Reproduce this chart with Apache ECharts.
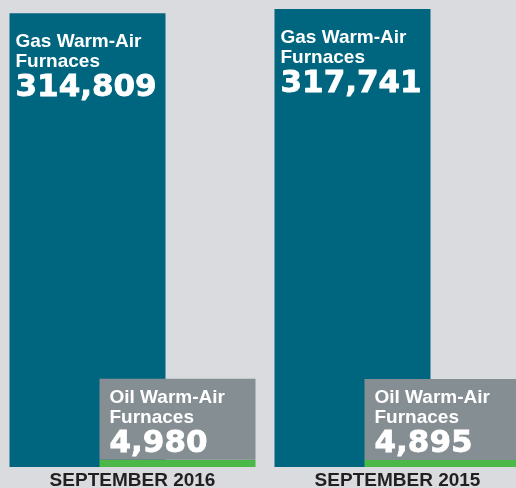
<!DOCTYPE html>
<html>
<head>
<meta charset="utf-8">
<script src="https://cdn.jsdelivr.net/npm/echarts@6/dist/echarts.min.js"></script>
<style>
html, body { margin: 0; padding: 0; background: #d9dbde; }
#chart { width: 516px; height: 488px; }
</style>
</head>
<body>
<div id="chart"></div>
<script>
// 数据
var categories = ['SEPTEMBER 2016', 'SEPTEMBER 2015'];
var gasValues = [314809, 317741];
var oilValues = [4980, 4895];
var gasTitle = ['Gas Warm-Air', 'Furnaces'];
var oilTitle = ['Oil Warm-Air', 'Furnaces'];

var furnace_chart = {
    fmt : function(v) {
        return String(v).replace(/\B(?=(\d{3})+(?!\d))/g, ',');
    },
    rich : function() {
        return {
            t : {
                fontFamily : 'Liberation Sans',
                fontWeight : 'bold',
                fontSize : 19,
                lineHeight : 20,
                color : '#fff'
            },
            n : {
                fontFamily : 'DejaVu Sans',
                fontWeight : 'bold',
                fontSize : 31,
                lineHeight : 32,
                color : '#fff',
                textBorderColor : '#fff',
                textBorderWidth : 0.8
            }
        };
    },
    init : function() {
        var chart = echarts.init(document.getElementById('chart'));
        var option = {
            backgroundColor : '#d9dbde',
            animation : false,
            grid : {
                left : 0,
                top : 0,
                width : 530,
                height : 467,
                outerBoundsMode : 'none'
            },
            xAxis : {
                type : 'category',
                data : categories,
                axisLine : { show : false },
                axisTick : { show : false },
                axisLabel : {
                    margin : 4,
                    fontFamily : 'Liberation Sans',
                    fontWeight : 'bold',
                    fontSize : 19,
                    color : '#231f20'
                }
            },
            yAxis : {
                type : 'value',
                min : 0,
                max : 324000,
                show : false
            },
            series : [ {
                name : 'Gas',
                type : 'bar',
                barWidth : 156,
                barGap : '-42.3%',
                itemStyle : { color : '#00667f' },
                label : {
                    show : true,
                    position : [6, 19],
                    align : 'left',
                    verticalAlign : 'top',
                    formatter : function(p) {
                        return '{t|' + gasTitle[0] + '}\n{t|' + gasTitle[1] + '}\n{n|' + furnace_chart.fmt(p.value) + '}';
                    },
                    rich : this.rich()
                },
                data : gasValues
            }, {
                name : 'Oil',
                type : 'bar',
                barWidth : 156,
                itemStyle : { color : '#4cb848' },
                label : {
                    show : true,
                    position : [0, 0],
                    align : 'left',
                    verticalAlign : 'bottom',
                    backgroundColor : '#858e93',
                    width : 142,
                    height : 69,
                    padding : [9, 4, 3, 10],
                    formatter : function(p) {
                        return '{t|' + oilTitle[0] + '}\n{t|' + oilTitle[1] + '}\n{n|' + furnace_chart.fmt(p.value) + '}';
                    },
                    rich : this.rich()
                },
                data : oilValues
            } ]
        };
        chart.setOption(option);
    }
};

furnace_chart.init();
</script>
</body>
</html>
